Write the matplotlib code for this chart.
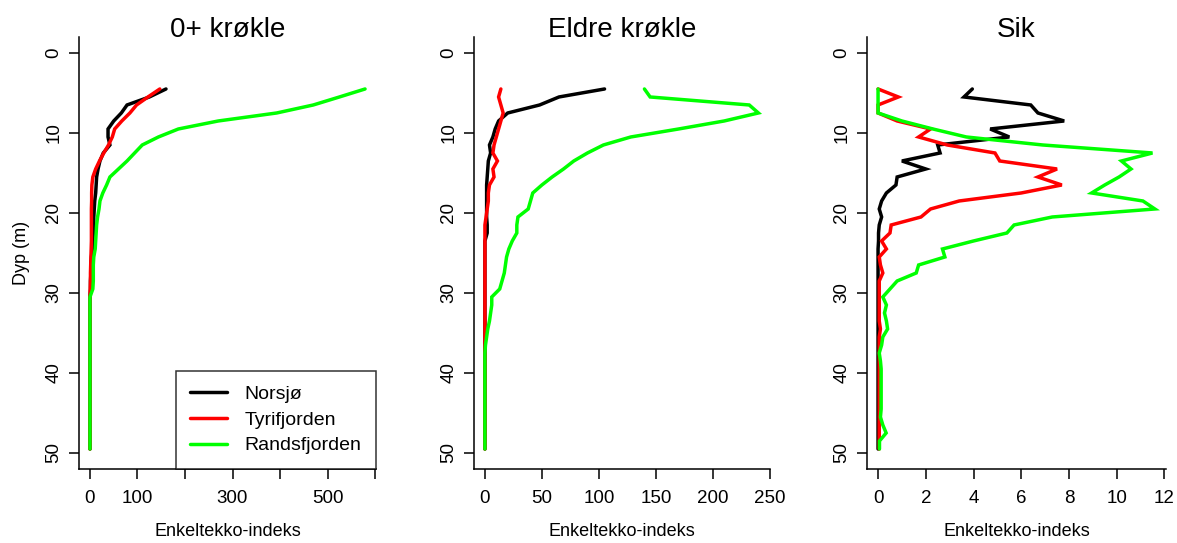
import matplotlib.pyplot as plt

plt.rcParams["font.family"] = ["Liberation Sans", "DejaVu Sans"]

# --- Data ---------------------------------------------------------------
depth = [4.5, 5.5, 6.5, 7.5, 8.5, 9.5, 10.5, 11.5, 12.5, 13.5,
         14.5, 15.5, 16.5, 17.5, 18.5, 19.5, 20.5, 21.5, 22.5, 23.5,
         24.5, 25.5, 26.5, 27.5, 28.5, 29.5, 30.5, 31.5, 32.5, 33.5,
         34.5, 35.5, 36.5, 37.5, 38.5, 39.5, 40.5, 41.5, 42.5, 43.5,
         44.5, 45.5, 46.5, 47.5, 48.5, 49.5]

lakes = ["Norsjø", "Tyrifjorden", "Randsfjorden"]
colors = ["black", "#FF0000", "#00FF00"]

# 0+ krøkle
krokle0_norsjo = [160, 125, 78, 66, 50, 38, 38, 42, 28, 21,
                  17, 14, 13, 12, 10, 9, 8, 8, 7, 6,
                  5, 3, 2, 2, 1, 1, 0, 0, 0, 0,
                  0, 0, 0, 0, 0, 0, 0, 0, 0, 0,
                  0, 0, 0, 0, 0, 0]
krokle0_tyri = [147, 122, 98, 84, 67, 52, 47, 39, 29, 20,
                12, 6, 4, 3.5, 3.5, 3, 3, 3, 3, 3,
                2.5, 2, 1.5, 1, 1, 0.5, 0, 0, 0, 0,
                0, 0, 0, 0, 0, 0, 0, 0, 0, 0,
                0, 0, 0, 0, 0, 0]
krokle0_rands = [579, 525, 470, 393, 270, 186, 144, 110, 94, 78,
                 60, 42, 35, 27, 21, 19, 16, 14, 13, 12,
                 11, 8, 7, 7, 7, 6, 0, 0, 0, 0,
                 0, 0, 0, 0, 0, 0, 0, 0, 0, 0,
                 0, 0, 0, 0, 0, 0]

# Eldre krøkle
eldre_norsjo = [105, 65, 48, 20, 12, 9, 7, 4, 5, 3,
                2.5, 2, 1.5, 1.5, 1.5, 1.5, 1.5, 2, 2, 0,
                0, 0, 0, 0, 0, 0, 0, 0, 0, 0,
                0, 0, 0, 0, 0, 0, 0, 0, 0, 0,
                0, 0, 0, 0, 0, 0]
eldre_tyri = [14, 12, 14, 16, 14, 12, 10, 8, 7, 11,
              7, 8, 4, 3, 3, 2, 1, 0, 0, 0,
              0, 0, 0, 0, 0, 0, 0, 0, 0, 0,
              0, 0, 0, 0, 0, 0, 0, 0, 0, 0,
              0, 0, 0, 0, 0, 0]
eldre_rands = [140, 145, 232, 240, 210, 170, 128, 104, 90, 78,
               69, 59, 50, 42, 40, 38, 29, 28, 28, 24,
               21, 19, 18, 17, 15, 13, 6, 6, 5, 4,
               2.5, 1.5, 0.5, 0, 0, 0, 0, 0, 0, 0,
               0, 0, 0, 0, 0, 0]

# Sik
sik_norsjo = [3.95, 3.6, 6.4, 6.7, 7.8, 4.7, 5.5, 2.5, 2.6, 1.0,
              2.0, 0.8, 0.75, 0.35, 0.15, 0.05, 0.15, 0.05, 0.02, 0.02,
              0, 0, 0, 0, 0, 0, 0, 0, 0, 0,
              0, 0, 0, 0, 0, 0, 0, 0, 0, 0,
              0, 0, 0, 0, 0, 0]
sik_tyri = [0.0, 0.85, 0.0, 0.0, 0.8, 2.2, 1.7, 2.9, 4.9, 5.1,
            7.5, 6.7, 7.7, 6.0, 3.4, 2.2, 1.8, 0.55, 0.5, 0.15,
            0.35, 0.05, 0.1, 0.2, 0.05, 0.05, 0.05, 0.05, 0.05, 0.05,
            0.1, 0.05, 0.05, 0.05, 0.05, 0.05, 0.05, 0.05, 0.05, 0.05,
            0.05, 0.05, 0.05, 0.05, 0.05, 0.05]
sik_rands = [0, 0, 0, 0, 1.0, 2.3, 3.7, 6.9, 11.5, 10.2,
             10.6, 10.1, 9.5, 8.95, 11.1, 11.6, 7.3, 5.7, 5.4, 4.0,
             2.7, 2.8, 1.7, 1.6, 0.8, 0.5, 0.2, 0.35, 0.27, 0.35,
             0.4, 0.2, 0.15, 0.05, 0.1, 0.13, 0.13, 0.13, 0.13, 0.13,
             0.13, 0.1, 0.2, 0.34, 0.06, 0.06]

panels = [
    ("0+ krøkle", [krokle0_norsjo, krokle0_tyri, krokle0_rands],
     [0, 100, 200, 300, 400, 500, 600], ["0", "100", "", "300", "", "500", ""]),
    ("Eldre krøkle", [eldre_norsjo, eldre_tyri, eldre_rands],
     [0, 50, 100, 150, 200, 250], ["0", "50", "100", "150", "200", "250"]),
    ("Sik", [sik_norsjo, sik_tyri, sik_rands],
     [0, 2, 4, 6, 8, 10, 12], ["0", "2", "4", "6", "8", "10", "12"]),
]

# --- Figure -------------------------------------------------------------
fig = plt.figure(figsize=(11.77, 5.43), dpi=100)
lefts = [0.0671, 0.4027, 0.7366]
widths = [0.2524, 0.2513, 0.2540]

for i, (title, series, xticks, xlabels) in enumerate(panels):
    ax = fig.add_axes([lefts[i], 0.1363, widths[i], 0.7956])
    for vals, name, col in zip(series, lakes, colors):
        ax.plot(vals, depth, color=col, linewidth=2.5, label=name,
                solid_joinstyle="miter", solid_capstyle="round")
    top = max(max(v) for v in series)
    ax.set_xlim(-0.04 * top, 1.04 * top)
    ax.set_ylim(52, -2)
    ax.set_xticks(xticks)
    ax.set_xticklabels(xlabels)
    ax.set_yticks([0, 10, 20, 30, 40, 50])
    ax.set_yticklabels(["0", "10", "20", "30", "40", "50"], rotation=90, va="center")
    ax.tick_params(axis="both", direction="out", length=7, width=1.1, labelsize=13.5)
    ax.tick_params(axis="x", pad=8)
    ax.tick_params(axis="y", pad=5)
    for side in ["top", "right"]:
        ax.spines[side].set_visible(False)
    for side in ["left", "bottom"]:
        ax.spines[side].set_linewidth(1.1)
    ax.set_title(title, fontsize=20, y=1.0, pad=0)
    ax.set_xlabel("Enkeltekko-indeks", fontsize=13, labelpad=12)
    if i == 0:
        ax.set_ylabel("Dyp (m)", fontsize=13, labelpad=11)
        leg = ax.legend(loc="lower right", borderaxespad=0, fancybox=False,
                        edgecolor="black", fontsize=14, handlelength=1.9,
                        handletextpad=0.9, labelspacing=0.42, borderpad=0.75)
        leg.get_frame().set_linewidth(1.1)

fig.savefig("out.png", dpi=100)
